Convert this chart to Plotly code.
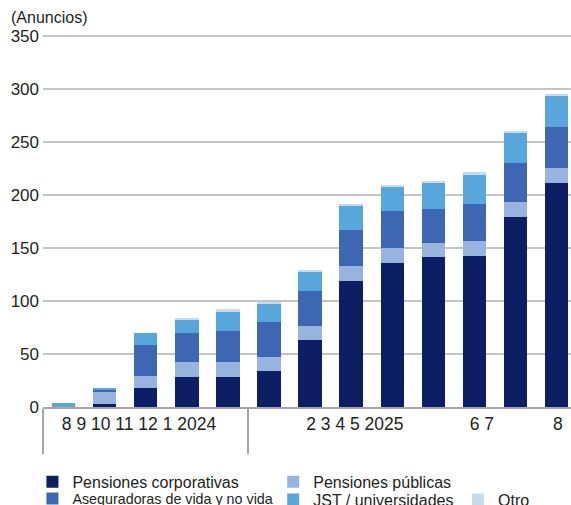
import plotly.graph_objects as go

# Monthly announcements, Aug 2024 - Aug 2025
months = ["2024-08", "2024-09", "2024-10", "2024-11", "2024-12",
          "2025-01", "2025-02", "2025-03", "2025-04", "2025-05",
          "2025-06", "2025-07", "2025-08"]

pensiones_corporativas = [0, 3, 18, 28, 28, 34, 63, 119, 136, 141, 142, 179, 211]
pensiones_publicas = [0, 11, 11, 14, 14, 13, 13, 14, 14, 14, 14, 14, 14]
aseguradoras = [0, 2, 29, 28, 30, 33, 33, 34, 35, 32, 35, 37, 39]
jst_universidades = [4, 2, 12, 12, 18, 18, 18, 22, 22, 24, 28, 28, 29]
otro = [0, 0, 0, 2, 2, 1, 2, 2, 2, 2, 2, 2, 2]

tick_labels = ["8 9 10 11 12 1 2024", "2 3 4 5 2025", "6 7", "8"]

FONT = "Liberation Sans, Arial, sans-serif"
TEXT = "#231f20"

# name, values, colour, legend id
series = [
    ("Pensiones corporativas", pensiones_corporativas, "#0c1f64", "legend"),
    ("Pensiones públicas", pensiones_publicas, "#97b4de", "legend2"),
    ("Aseguradoras de vida y no vida", aseguradoras, "#3e67b3", "legend3"),
    ("JST / universidades", jst_universidades, "#57a7dd", "legend4"),
    ("Otro", otro, "#c8dbe9", "legend5"),
]

xpos = list(range(len(months)))

fig = go.Figure()
for name, vals, color, lg in series:
    fig.add_trace(go.Bar(
        x=xpos, y=vals, name=name, legend=lg,
        marker=dict(color=color, line=dict(width=0)),
        width=0.57, customdata=months,
        hovertemplate="%{customdata}: %{y}<extra>" + name + "</extra>",
    ))


def legend_box(x, y, size=16):
    return dict(
        x=x, y=y, orientation="v", bgcolor="rgba(0,0,0,0)", borderwidth=0,
        font=dict(family=FONT, size=size, color=TEXT),
        yanchor="top", xanchor="left",
    )


ROW1, ROW2 = -0.155, -0.203
COL1, COL2, COL3 = -0.02, 0.436, 0.786

fig.update_layout(
    width=571, height=505,
    margin=dict(l=43, r=0, t=33.5, b=98, autoexpand=False),
    barmode="stack", bargap=0.43,
    plot_bgcolor="white", paper_bgcolor="white",
    font=dict(family=FONT, size=17, color=TEXT),
    showlegend=True,
    title=dict(text="(Anuncios)", font=dict(family=FONT, size=16, color=TEXT),
               xref="container", yref="container", x=11 / 571, xanchor="left",
               y=1 - 17 / 505, yanchor="middle"),
    legend=legend_box(COL1, ROW1),
    legend2=legend_box(COL2, ROW1),
    legend3=legend_box(COL1, ROW2, size=14.3),
    legend4=legend_box(COL2, ROW2),
    legend5=legend_box(COL3, ROW2),
    xaxis=dict(
        range=[-0.5, 12.35], showgrid=False, zeroline=False,
        showline=True, linecolor="#a6a6a6", linewidth=1.5,
        tickmode="array", tickvals=[1.836, 7.09, 10.18, 12.03],
        ticktext=tick_labels, ticks="", tickfont=dict(size=17.5),
        minor=dict(tickmode="array", tickvals=[-0.5, 4.5], ticks="outside",
                   ticklen=45, tickwidth=1.5, tickcolor="#a6a6a6"),
    ),
    yaxis=dict(
        range=[0, 351.5], tickvals=[0, 50, 100, 150, 200, 250, 300, 350],
        showgrid=True, gridcolor="#c4c4c4", gridwidth=1.5,
        zeroline=False, showline=False, ticks="", tickfont=dict(size=17),
        ticklabelstandoff=3,
    ),
)

fig.write_html("out.html")
